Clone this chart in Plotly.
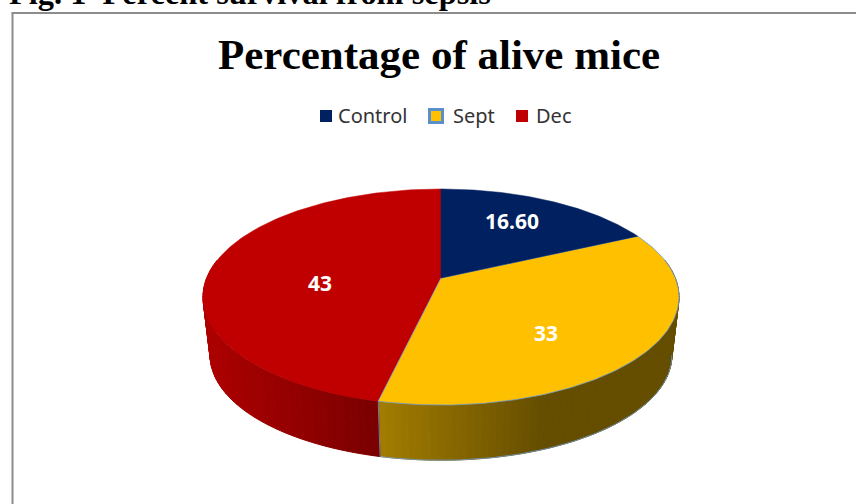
import numpy as np
import plotly.graph_objects as go

# Chart data
categories = ["Control", "Sept", "Dec"]
values = [16.60, 33, 43]
value_labels = ["16.60", "33", "43"]
top_colors = ["#002060", "#FFC000", "#C00000"]
legend_outline = ["#002060", "#5B8FC9", "#C00000"]

W, H = 856, 504

# Perspective disc: top face and the smaller bottom face of the pie
CX = 441.0
TOP_CY, BOTTOM_CY = 278.0, 337.0
RX, RY, PERSP = 234.3, 104.7, 0.176
BOTTOM_SCALE = 0.97
RIM_BLUE = "#6C9BCF"


def project(theta_deg, cy=TOP_CY, scale=1.0):
    """Clockwise angle from 12 o'clock to page coordinates."""
    t = np.radians(theta_deg)
    u, v = np.sin(t), np.cos(t)
    w = 1 + PERSP * v
    return CX + scale * RX * u / w, cy - scale * RY * v / w


def lerp_hex(stops, x):
    xs = [s[0] for s in stops]
    rgb = [np.interp(x, xs, [s[1][i] for s in stops]) for i in range(3)]
    return "rgb(%d,%d,%d)" % tuple(round(c) for c in rgb)


# Side wall shading, left to right along the rim
side_shades = {
    "Sept": [(378, (163, 125, 0)), (470, (128, 98, 0)), (545, (101, 77, 0)), (680, (101, 77, 0))],
    "Dec": [(205, (172, 0, 0)), (300, (145, 0, 0)), (378, (122, 0, 0))],
}

total = sum(values)
edges = np.concatenate([[0], np.cumsum(values) / total * 360])
spans = {c: (edges[i], edges[i + 1]) for i, c in enumerate(categories)}

fig = go.Figure()

# Rim bands (only the front of the pie shows)
for name, (a0, a1) in spans.items():
    if name not in side_shades:
        continue
    lo, hi = max(a0, 80), min(a1, 280)
    steps = np.linspace(lo, hi, max(int((hi - lo) / 1.5), 2) + 1)
    for s0, s1 in zip(steps[:-1], steps[1:]):
        x0, y0 = project(s0)
        x1, y1 = project(s1)
        x2, y2 = project(s1, BOTTOM_CY, BOTTOM_SCALE)
        x3, y3 = project(s0, BOTTOM_CY, BOTTOM_SCALE)
        col = lerp_hex(side_shades[name], (x0 + x1) / 2)
        fig.add_trace(go.Scatter(
            x=[x0, x1, x2, x3, x0], y=[y0, y1, y2, y3, y0],
            mode="lines", fill="toself", fillcolor=col,
            line=dict(color=col, width=1), hoverinfo="skip", showlegend=False,
        ))

# Thin blue outline on the Sept wall
a0, a1 = spans["Sept"]
arc = np.linspace(100, a1, 90)
bx, by = project(arc, BOTTOM_CY, BOTTOM_SCALE)
cx1, cy1 = project(a1)
fig.add_trace(go.Scatter(
    x=list(bx) + [cx1], y=list(by) + [cy1], mode="lines",
    line=dict(color=RIM_BLUE, width=0.8), hoverinfo="skip", showlegend=False,
))

# Top face slices
for idx in (2, 1, 0):
    a0, a1 = edges[idx], edges[idx + 1]
    th = np.linspace(a0, a1, 160)
    ax, ay = project(th)
    is_sept = categories[idx] == "Sept"
    fig.add_trace(go.Scatter(
        x=[CX] + list(ax) + [CX], y=[TOP_CY] + list(ay) + [TOP_CY],
        mode="lines", fill="toself", fillcolor=top_colors[idx],
        line=dict(color=RIM_BLUE if is_sept else top_colors[idx], width=0.8 if is_sept else 0.5),
        name=categories[idx], hoverinfo="skip", showlegend=False,
    ))

# Value labels on the slices
label_x = [512, 546, 320]
label_y = [224, 336, 286]
fig.add_trace(go.Scatter(
    x=label_x, y=label_y, mode="text", text=value_labels,
    textfont=dict(family="Noto Sans", size=21, color="white", weight="bold"),
    textposition="middle center", hoverinfo="skip", showlegend=False,
))

# Legend row
swatch_x = [326, 436, 522]
swatch_size = [10, 13, 10]
swatch_line = [2, 3, 2]
text_x = [336, 451, 534]
legend_y = 115
fig.add_trace(go.Scatter(
    x=swatch_x, y=[116] * 3, mode="markers",
    marker=dict(symbol="square", size=swatch_size, color=top_colors, opacity=1,
                line=dict(color=legend_outline, width=swatch_line)),
    hoverinfo="skip", showlegend=False,
))
annotations = [
    dict(x=tx, y=legend_y, text=c, xanchor="left", yanchor="middle", showarrow=False,
         font=dict(family="Noto Sans", size=20, color="#333333"))
    for tx, c in zip(text_x, categories)
]

# Chart title and the figure caption above the frame
annotations.append(dict(
    x=439, y=54, text="Percentage of alive mice", xanchor="center", yanchor="middle",
    showarrow=False, font=dict(family="Liberation Serif", size=43, color="black", weight="bold"),
))
annotations.append(dict(
    x=7, xref="x", y=1, yref="paper", yshift=7,
    text="Fig. 1  Percent survival from sepsis", xanchor="left", yanchor="middle",
    showarrow=False, font=dict(family="Liberation Serif", size=32.4, color="black", weight="bold"),
))

# Frame: only its top and left edges fall on the page
frame = [
    dict(type="line", x0=12.5, x1=12.5, y0=13, y1=H, line=dict(color="#8C8C8C", width=2)),
    dict(type="line", x0=11.5, x1=W, y0=13, y1=13, line=dict(color="#8C8C8C", width=2)),
]

fig.update_layout(
    width=W, height=H, margin=dict(l=0, r=0, t=0, b=0),
    paper_bgcolor="white", plot_bgcolor="white",
    xaxis=dict(range=[0, W], visible=False, fixedrange=True),
    yaxis=dict(range=[H, 0], visible=False, fixedrange=True),
    annotations=annotations, shapes=frame, showlegend=False,
)

fig.write_html("out.html", config={"displayModeBar": False})
